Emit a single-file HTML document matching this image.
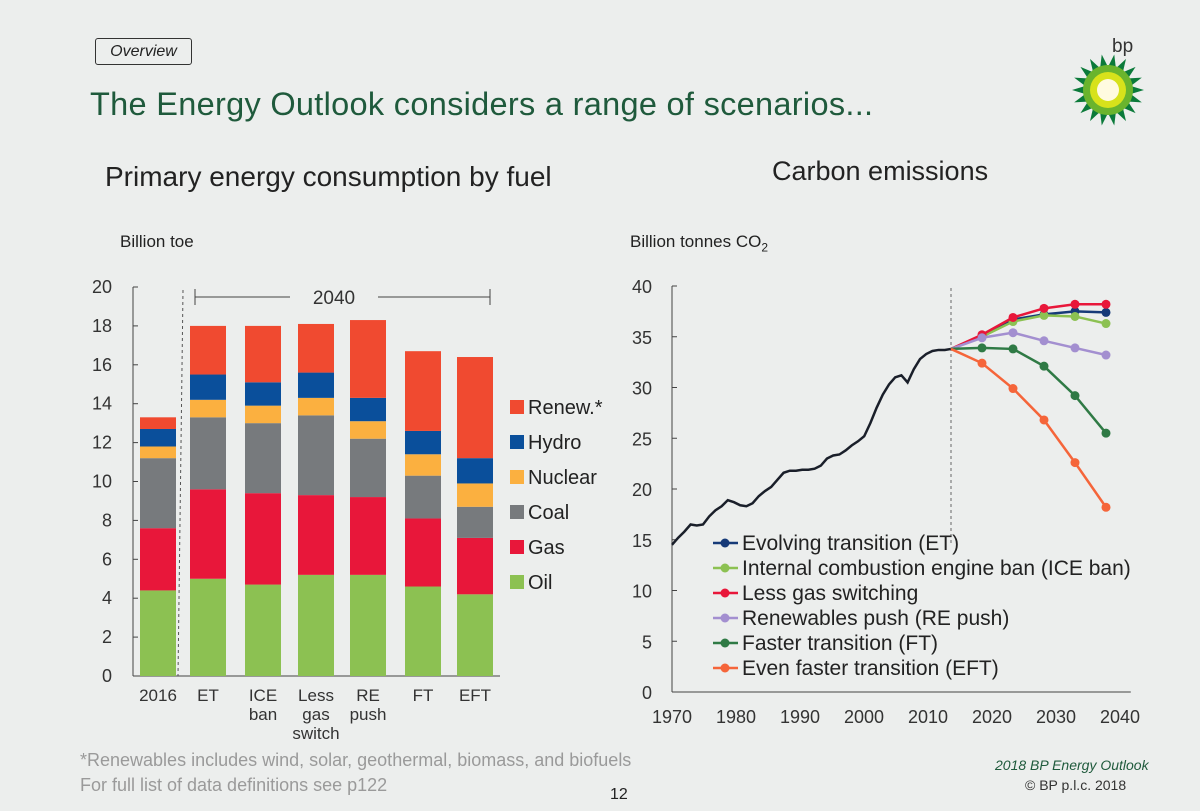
<!DOCTYPE html>
<html><head><meta charset="utf-8"><style>
body{margin:0;width:1200px;height:811px;background:#eceeed;font-family:"Liberation Sans",sans-serif;overflow:hidden;position:relative;color:#222}
.t{position:absolute;white-space:nowrap}
</style></head><body>
<div class="t" style="left:95px;top:38px;width:95px;height:25px;border:1.5px solid #333;border-radius:3px;font-style:italic;font-size:16px;line-height:25px;text-align:center">Overview</div>
<div class="t" style="left:90px;top:86px;font-size:32.5px;color:#1f5a3c;letter-spacing:0.3px">The Energy Outlook considers a range of scenarios...</div>
<div class="t" style="left:105px;top:161px;font-size:28px">Primary energy consumption by fuel</div>
<div class="t" style="left:772px;top:156px;font-size:27px">Carbon emissions</div>
<div class="t" style="left:120px;top:232px;font-size:17px">Billion toe</div>
<div class="t" style="left:630px;top:232px;font-size:17px">Billion tonnes CO<sub style="font-size:12px">2</sub></div>
<div class="t" style="left:80px;top:750px;font-size:18px;color:#9a9a9a">*Renewables includes wind, solar, geothermal, biomass, and biofuels</div>
<div class="t" style="left:80px;top:775px;font-size:18px;color:#9a9a9a">For full list of data definitions see p122</div>
<div class="t" style="left:610px;top:786px;font-size:16px">12</div>
<div class="t" style="left:995px;top:757px;font-size:14px;font-style:italic;color:#1f5a3c">2018 BP Energy Outlook</div>
<div class="t" style="left:1025px;top:777px;font-size:14px;color:#333">© BP p.l.c. 2018</div>
<div class="t" style="left:1112px;top:36px;font-size:19px;color:#333">bp</div>
<svg id="logo" style="position:absolute;left:1070px;top:52px" width="76" height="76"></svg>
<svg id="bars" style="position:absolute;left:0;top:0" width="620" height="750"></svg>
<svg id="lines" style="position:absolute;top:0;left:600px" width="600" height="750"></svg>
<script>
const NS="http://www.w3.org/2000/svg";
function mk(p,tag,a){const e=document.createElementNS(NS,tag);for(const k in a)e.setAttribute(k,a[k]);p.appendChild(e);return e;}
const lg=document.getElementById('logo');
for(let i=0;i<18;i++){const a=i*Math.PI/9;mk(lg,'polygon',{points:`${38+36*Math.cos(a)},${38+36*Math.sin(a)} ${38+22*Math.cos(a+0.2)},${38+22*Math.sin(a+0.2)} ${38+22*Math.cos(a-0.2)},${38+22*Math.sin(a-0.2)}`,fill:'#0b7a3a'});}
mk(lg,'circle',{cx:38,cy:38,r:25,fill:'#6ab42d'});mk(lg,'circle',{cx:38,cy:38,r:18,fill:'#d7e21b'});mk(lg,'circle',{cx:38,cy:38,r:11,fill:'#fffbe0'});

const barCats=["2016","ET","ICE ban","Less gas switch","RE push","FT","EFT"];
const fuels=["Oil","Gas","Coal","Nuclear","Hydro","Renew.*"];
const oil=[4.4,5.0,4.7,5.2,5.2,4.6,4.2];
const gas=[3.2,4.6,4.7,4.1,4.0,3.5,2.9];
const coal=[3.6,3.7,3.6,4.1,3.0,2.2,1.6];
const nuclear=[0.6,0.9,0.9,0.9,0.9,1.1,1.2];
const hydro=[0.9,1.3,1.2,1.3,1.2,1.2,1.3];
const renew=[0.6,2.5,2.9,2.5,4.0,4.1,5.2];
const barTicks=[0,2,4,6,8,10,12,14,16,18,20];
const fuelColors=["#8cc152","#e8173a","#777a7d","#fbb040","#0a4f9b","#f04a30"];
const bs=document.getElementById('bars');
const by=v=>676-v*19.45;
const bx=i=>[140,190,245,298,350,405,457][i];
const bw=36;
mk(bs,'line',{x1:133,y1:by(0),x2:500,y2:by(0),stroke:'#444','stroke-width':1});
mk(bs,'line',{x1:133,y1:by(0),x2:133,y2:by(20),stroke:'#444','stroke-width':1});
barTicks.forEach(t=>{mk(bs,'line',{x1:133,y1:by(t),x2:138,y2:by(t),stroke:'#444'});
const tx=mk(bs,'text',{x:112,y:by(t)+6,'text-anchor':'end','font-size':18,fill:'#333'});tx.textContent=t;

});
mk(bs,'line',{x1:183,y1:290,x2:178,y2:676,stroke:'#555','stroke-dasharray':'3,3'});
mk(bs,'line',{x1:195,y1:297,x2:290,y2:297,stroke:'#444'});mk(bs,'line',{x1:195,y1:289,x2:195,y2:305,stroke:'#444'});
mk(bs,'line',{x1:378,y1:297,x2:490,y2:297,stroke:'#444'});mk(bs,'line',{x1:490,y1:289,x2:490,y2:305,stroke:'#444'});
const h40=mk(bs,'text',{x:334,y:304,'text-anchor':'middle','font-size':19,fill:'#333'});h40.textContent="2040";
const series=[oil,gas,coal,nuclear,hydro,renew];
barCats.forEach((c,i)=>{let base=0;series.forEach((s,k)=>{const r=mk(bs,'rect',{x:bx(i),y:by(base+s[i]),width:bw,height:s[i]*19.45,fill:fuelColors[k]});

base+=s[i];});
c.split(' ').forEach((w,j)=>{const t=mk(bs,'text',{x:bx(i)+bw/2,y:701+j*19,'text-anchor':'middle','font-size':17,fill:'#333'});t.textContent=w;

});});
fuels.slice().reverse().forEach((f,j)=>{const k=5-j;const y=408+j*35;
const r=mk(bs,'rect',{x:510,y:y-8,width:14,height:14,fill:fuelColors[k]});


const t=mk(bs,'text',{x:528,y:y+6,'font-size':20,fill:'#222'});t.textContent=f;

});

const histYears=[1970,1971,1972,1973,1974,1975,1976,1977,1978,1979,1980,1981,1982,1983,1984,1985,1986,1987,1988,1989,1990,1991,1992,1993,1994,1995,1996,1997,1998,1999,2000,2001,2002,2003,2004,2005,2006,2007,2008,2009,2010,2011,2012,2013,2014,2015];
const hist=[14.5,15.2,15.8,16.5,16.4,16.5,17.3,17.9,18.3,18.9,18.7,18.4,18.3,18.6,19.3,19.8,20.2,20.9,21.6,21.8,21.8,21.9,21.9,22.0,22.3,23.0,23.3,23.4,23.8,24.3,24.7,25.2,26.5,28.0,29.3,30.3,31.0,31.2,30.5,31.8,32.8,33.3,33.6,33.7,33.7,33.8];
const projYears=[2015,2020,2025,2030,2035,2040];
const scenNames=["Evolving transition (ET)","Internal combustion engine ban (ICE ban)","Less gas switching","Renewables push (RE push)","Faster transition (FT)","Even faster transition (EFT)"];
const scET=[33.8,35.0,36.7,37.2,37.5,37.4];
const scICE=[33.8,35.0,36.5,37.1,37.0,36.3];
const scLGS=[33.8,35.2,36.9,37.8,38.2,38.2];
const scRE=[33.8,34.9,35.4,34.6,33.9,33.2];
const scFT=[33.8,33.9,33.8,32.1,29.2,25.5];
const scEFT=[33.8,32.4,29.9,26.8,22.6,18.2];
const lineTicks=[0,5,10,15,20,25,30,35,40];
const xTicks=[1970,1980,1990,2000,2010,2020,2030,2040];
const scColors=["#163a78","#8cc152","#e8173a","#a38fd0","#2f7a45","#f5653a"];
const ls=document.getElementById('lines');
const ly=v=>692-v*10.15;
const lx=y=>672+(y-1970)*6.2-600;
mk(ls,'line',{x1:lx(1970),y1:ly(0),x2:lx(2044),y2:ly(0),stroke:'#444'});
mk(ls,'line',{x1:lx(1970),y1:ly(0),x2:lx(1970),y2:ly(40),stroke:'#444'});
lineTicks.forEach(t=>{mk(ls,'line',{x1:lx(1970),y1:ly(t),x2:lx(1970)+5,y2:ly(t),stroke:'#444'});
const tx=mk(ls,'text',{x:52,y:ly(t)+7,'text-anchor':'end','font-size':18,fill:'#333'});tx.textContent=t;

});
xTicks.forEach(t=>{const tx=mk(ls,'text',{x:lx(t)+(t-1970)*0.2,y:723,'text-anchor':'middle','font-size':18,fill:'#333'});tx.textContent=t;

});
mk(ls,'line',{x1:lx(2015),y1:ly(40)+2,x2:lx(2015),y2:ly(15)+5,stroke:'#666','stroke-dasharray':'3,3'});
const hp=mk(ls,'polyline',{points:histYears.map((y,i)=>lx(y)+','+ly(hist[i])).join(' '),fill:'none',stroke:'#1a1f2a','stroke-width':2.5});


[scET,scICE,scLGS,scRE,scFT,scEFT].forEach((s,k)=>{
const p=mk(ls,'polyline',{points:projYears.map((y,i)=>lx(y)+','+ly(s[i])).join(' '),fill:'none',stroke:scColors[k],'stroke-width':2.5});


projYears.forEach((y,i)=>{if(i==0)return;const c=mk(ls,'circle',{cx:lx(y),cy:ly(s[i]),r:4.5,fill:scColors[k]});

});
const yy=543+k*25;
mk(ls,'line',{x1:113,y1:yy,x2:138,y2:yy,stroke:scColors[k],'stroke-width':2.5});
mk(ls,'circle',{cx:125,cy:yy,r:4.5,fill:scColors[k]});
const t=mk(ls,'text',{x:142,y:yy+7,'font-size':21,fill:'#222'});t.textContent=scenNames[k];

});
</script>
</body></html>
